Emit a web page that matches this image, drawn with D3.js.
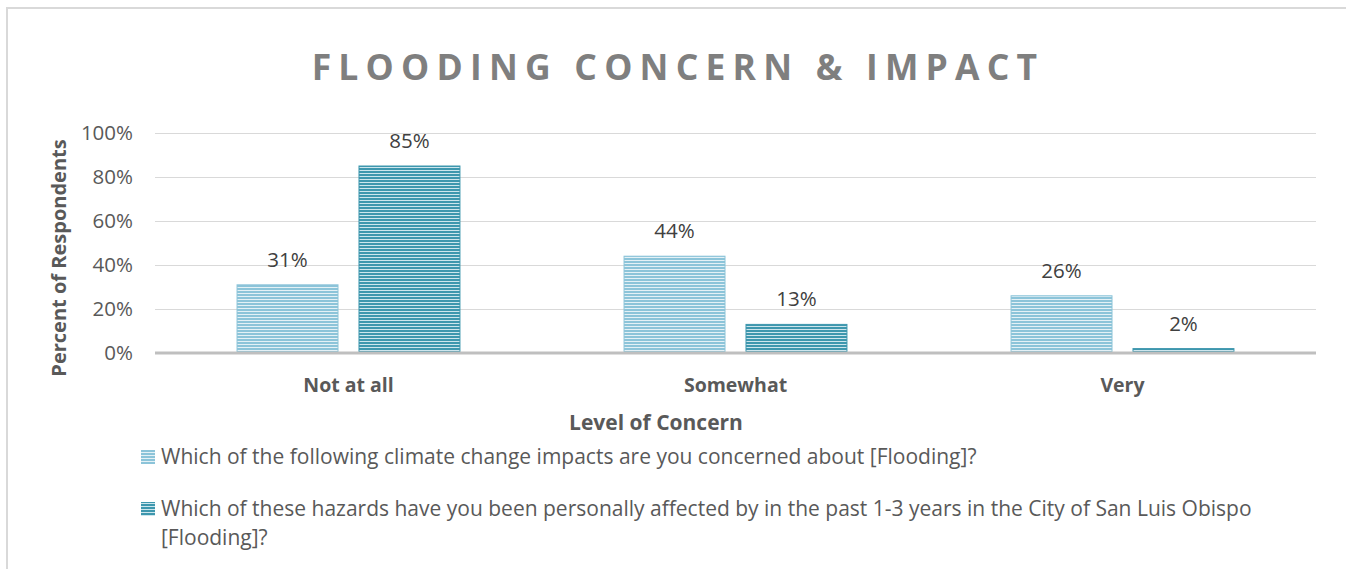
<!DOCTYPE html>
<html><head><meta charset="utf-8">
<script src="https://cdn.jsdelivr.net/npm/d3@7"></script>
<style>body{margin:0;background:#fff}svg{display:block;font-family:"Open Sans",sans-serif}</style>
</head><body><svg id="c" width="1346" height="569"></svg>
<script>
const title = "FLOODING CONCERN & IMPACT";
const categories = ["Not at all", "Somewhat", "Very"];
const seriesNames = [
  "Which of the following climate change impacts are you concerned about [Flooding]?",
  "Which of these hazards have you been personally affected by in the past 1-3 years in the City of San Luis Obispo [Flooding]?"
];
const concerned = [0.31, 0.44, 0.26];
const affected = [0.85, 0.13, 0.02];
const yTicks = [0, 0.2, 0.4, 0.6, 0.8, 1.0];
const xTitle = "Level of Concern";
const yTitle = "Percent of Respondents";

(function(){
const series = [concerned, affected];
const colors = [{base:"#8cc4d9", line:"#e4f1f6"}, {base:"#3e97ae", line:"#cde6ed"}];

const svg = d3.select("#c");
const defs = svg.append("defs");
colors.forEach((c,i)=>{
  const p = defs.append("pattern").attr("id","pat"+i).attr("patternUnits","userSpaceOnUse")
    .attr("width",4).attr("height",3);
  p.append("rect").attr("width",4).attr("height",3).attr("fill",c.base);
  p.append("rect").attr("y",2).attr("width",4).attr("height",1).attr("fill",c.line);
});

svg.append("rect").attr("x",7).attr("y",8).attr("width",1350).attr("height",580)
  .attr("fill","none").attr("stroke","#d9d9d9").attr("stroke-width",2);

svg.append("text").attr("x",678).attr("y",80).attr("text-anchor","middle")
  .attr("font-size",35.5).attr("font-weight","bold").attr("fill","#7f7f7f")
  .attr("letter-spacing","7.2px").text(title);

const pl=155, pr=1316, pt=133, pb=353;
const y = d3.scaleLinear().domain([0,1]).range([pb, pt]);
const x0 = d3.scaleBand().domain(categories).range([pl,pr]);
const bw = x0.bandwidth();
const x1 = d3.scaleBand().domain([0,1]).range([bw*0.212, bw*0.788]).paddingInner(0.172);

const yAxis = d3.axisLeft(y).tickValues(yTicks).tickSize(-(pr-pl)).tickFormat(d=>Math.round(d*100)+"%");
const ga = svg.append("g").attr("transform",`translate(${pl},0)`).call(yAxis);
ga.select(".domain").remove();
ga.selectAll(".tick line").attr("stroke","#d9d9d9").attr("stroke-width",1);
ga.selectAll(".tick text").attr("x",-22).attr("font-size",20.5).attr("fill","#595959").attr("font-family","'Open Sans',sans-serif");

const groups = svg.append("g").selectAll("g").data(categories).join("g")
  .attr("transform",d=>`translate(${x0(d)},0)`);
groups.selectAll("rect").data((d,ci)=>series.map((s,si)=>({si, v:s[ci]}))).join("rect")
  .attr("x",d=>x1(d.si)).attr("width",x1.bandwidth())
  .attr("y",d=>y(d.v)).attr("height",d=>y(0)-y(d.v))
  .attr("fill",d=>`url(#pat${d.si})`)
  .attr("stroke",d=>colors[d.si].base).attr("stroke-width",1);
groups.selectAll("text").data((d,ci)=>series.map((s,si)=>({si, v:s[ci]}))).join("text")
  .attr("x",d=>x1(d.si)+x1.bandwidth()/2).attr("y",d=>y(d.v)-18)
  .attr("text-anchor","middle").attr("font-size",20.5).attr("fill","#404040")
  .text(d=>Math.round(d.v*100)+"%");

const xAxis = d3.axisBottom(x0).tickSize(0).tickPadding(0);
const gx = svg.append("g").attr("transform",`translate(0,${pb})`).call(xAxis);
gx.select(".domain").attr("stroke","#bfbfbf").attr("stroke-width",3).attr("d",`M${pl},0H${pr}`);
gx.selectAll(".tick text").attr("y",39).attr("dy",0).attr("font-size",19.5).attr("font-weight","bold")
  .attr("fill","#595959").attr("font-family","'Open Sans',sans-serif");

svg.append("text").attr("x",656).attr("y",430).attr("text-anchor","middle")
  .attr("font-size",21).attr("font-weight","bold").attr("fill","#595959").text(xTitle);
svg.append("text").attr("transform","translate(66,258) rotate(-90)").attr("text-anchor","middle")
  .attr("font-size",20).attr("font-weight","bold").attr("fill","#595959").text(yTitle);

const legendLines = [[seriesNames[0]], ["Which of these hazards have you been personally affected by in the past 1-3 years in the City of San Luis Obispo", "[Flooding]?"]];
const legY = [464, 516];
legendLines.forEach((lines,i)=>{
  svg.append("rect").attr("x",141).attr("y",legY[i]-14).attr("width",14).attr("height",14)
    .attr("fill",`url(#pat${i})`);
  const t = svg.append("text").attr("x",161).attr("y",legY[i]).attr("font-size",21).attr("fill","#595959");
  lines.forEach((l,j)=>t.append("tspan").attr("x",161).attr("dy",j?29:0).text(l));
});
})();
</script></body></html>
